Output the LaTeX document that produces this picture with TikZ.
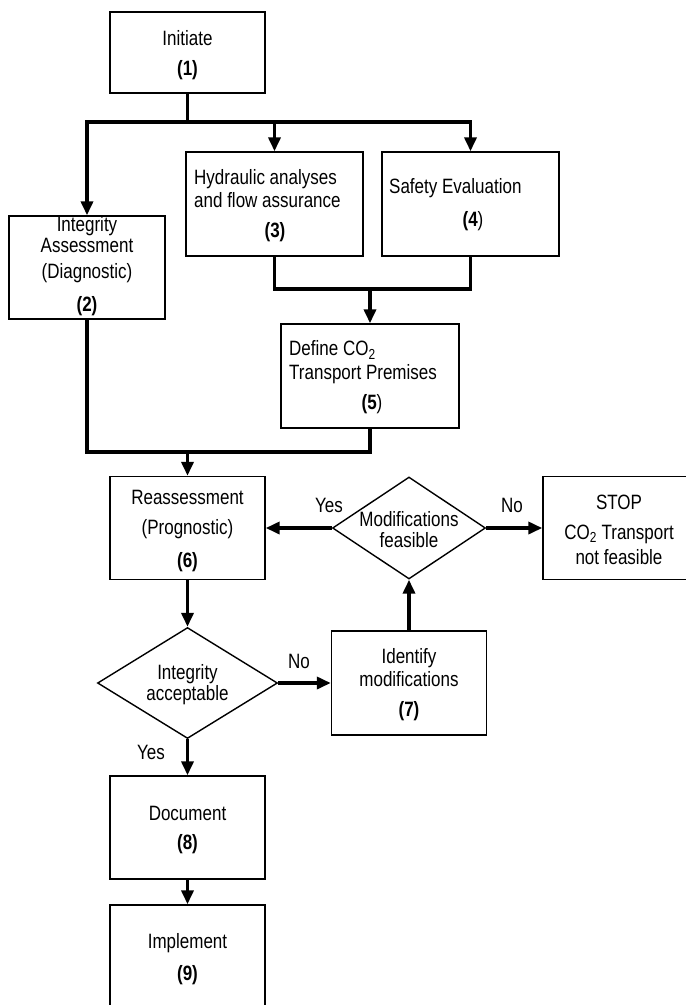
\documentclass[tikz,border=0pt]{standalone}
\usepackage{fontspec}
\setmainfont{Liberation Sans}
\usetikzlibrary{shapes.geometric,arrows.meta}
\newcommand\stz[1]{\scalebox{1}[1.22]{#1}}
\begin{document}
\begin{tikzpicture}[x=1pt,y=-1pt,
  box/.style={draw,line width=1.4pt,rectangle,inner sep=0pt},
  dia/.style={draw,line width=1.4pt,diamond,aspect=1.5,inner sep=0pt},
  txt/.style={inner sep=0pt,font=\fontsize{17}{20.5}\selectfont},
  conn/.style={line width=3.5pt},
  arr/.style={line width=3.5pt,-{Triangle[length=14pt,width=12pt]}},
]
\useasboundingbox (0,0) rectangle (686,1005);

% boxes
\node[box,minimum width=155pt,minimum height=81pt] (b1) at (187.5,52.5) {};
\node[box,minimum width=156pt,minimum height=103pt] (b2) at (87,267.5) {};
\node[box,minimum width=177pt,minimum height=104pt] (b3) at (274.5,204) {};
\node[box,minimum width=177pt,minimum height=104pt] (b4) at (470.5,204) {};
\node[box,minimum width=178pt,minimum height=104pt] (b5) at (370,376) {};
\node[box,minimum width=155pt,minimum height=103pt] (b6) at (187.5,528) {};
\node[dia,minimum width=153pt,minimum height=102pt] (d1) at (409,528) {};
\node[box,minimum width=150pt,minimum height=103pt] (stop) at (618,528) {};
\node[dia,minimum width=180pt,minimum height=111pt] (d2) at (187.5,683) {};
\node[box,minimum width=155pt,minimum height=104pt] (b7) at (409,683) {};
\node[box,minimum width=155pt,minimum height=103pt] (b8) at (187.5,827.5) {};
\node[box,minimum width=155pt,minimum height=103pt] (b9) at (187.5,956.5) {};

% texts
\node[txt] (t1a) at (187.5,38) {\stz{Initiate}};
\node[txt] (t1b) at (187.5,70) {\stz{\textbf{(1)}}};
\node[txt,anchor=west] (t3a) at (194,179) {\stz{Hydraulic analyses}};
\node[txt,anchor=west] (t3b) at (194,200) {\stz{and flow assurance}};
\node[txt] (t3c) at (275,232) {\stz{\textbf{(3)}}};
\node[txt,anchor=west] (t4a) at (389,188) {\stz{Safety Evaluation}};
\node[txt] (t4b) at (473,221) {\stz{\textbf{(4}{)}}};
\node[txt] (t2a) at (87,226) {\stz{Integrity}};
\node[txt] (t2b) at (87,245) {\stz{Assessment}};
\node[txt] (t2c) at (87,273) {\stz{(Diagnostic)}};
\node[txt] (t2d) at (87,306) {\stz{\textbf{(2)}}};
\node[txt,anchor=west] (t5a) at (289,350) {\stz{Define CO\textsubscript{2}}};
\node[txt,anchor=west] (t5b) at (289,374) {\stz{Transport Premises}};
\node[txt] (t5c) at (372,404) {\stz{\textbf{(5}{)}}};
\node[txt] (t6a) at (187.5,497) {\stz{Reassessment}};
\node[txt] (t6b) at (187.5,529) {\stz{(Prognostic)}};
\node[txt] (t6c) at (187.5,562) {\stz{\textbf{(6)}}};
\node[txt] (tda) at (409,519) {\stz{Modifications}};
\node[txt] (tdb) at (409,540) {\stz{feasible}};
\node[txt] (tsa) at (619,502) {\stz{STOP}};
\node[txt] (tsb) at (619,534) {\stz{CO\textsubscript{2} Transport}};
\node[txt] (tsc) at (619,557) {\stz{not feasible}};
\node[txt] (tia) at (187.5,674) {\stz{Integrity}};
\node[txt] (tib) at (187.5,695) {\stz{acceptable}};
\node[txt] (t7a) at (409,658) {\stz{Identify}};
\node[txt] (t7b) at (409,679) {\stz{modifications}};
\node[txt] (t7c) at (409,711) {\stz{\textbf{(7)}}};
\node[txt] (t8a) at (187.5,813) {\stz{Document}};
\node[txt] (t8b) at (187.5,844) {\stz{\textbf{(8)}}};
\node[txt] (t9a) at (187.5,943) {\stz{Implement}};
\node[txt] (t9b) at (187.5,975) {\stz{\textbf{(9)}}};

% edge labels
\node[txt] (ly1) at (329,505) {\stz{Yes}};
\node[txt] (ln1) at (512,505) {\stz{No}};
\node[txt] (ln2) at (299,661) {\stz{No}};
\node[txt] (ly2) at (151,752) {\stz{Yes}};

% connectors
\coordinate (j1) at (187.5,122);
\coordinate (m1) at (370,289);
\coordinate (m2) at (187.5,452);
\draw[conn] (b1.south) -- (j1);
\draw[arr] (j1) -| (b2.north);
\draw[arr] (j1) -| (b4.north);
\draw[arr] (j1 -| b3.north) -- (b3.north);
\draw[conn] (b3.south) |- (m1) -| (b4.south);
\draw[arr] (m1) -- (b5.north);
\draw[conn] (b2.south) |- (m2) -| (b5.south);
\draw[arr] (m2) -- (b6.north);
\draw[arr] (d1.west) -- (b6.east);
\draw[arr] (d1.east) -- (stop.west);
\draw[arr] (b7.north) -- (d1.south);
\draw[arr] (b6.south) -- (d2.north);
\draw[arr] (d2.east) -- (b7.west);
\draw[arr] (d2.south) -- (b8.north);
\draw[arr] (b8.south) -- (b9.north);
\end{tikzpicture}
\end{document}
